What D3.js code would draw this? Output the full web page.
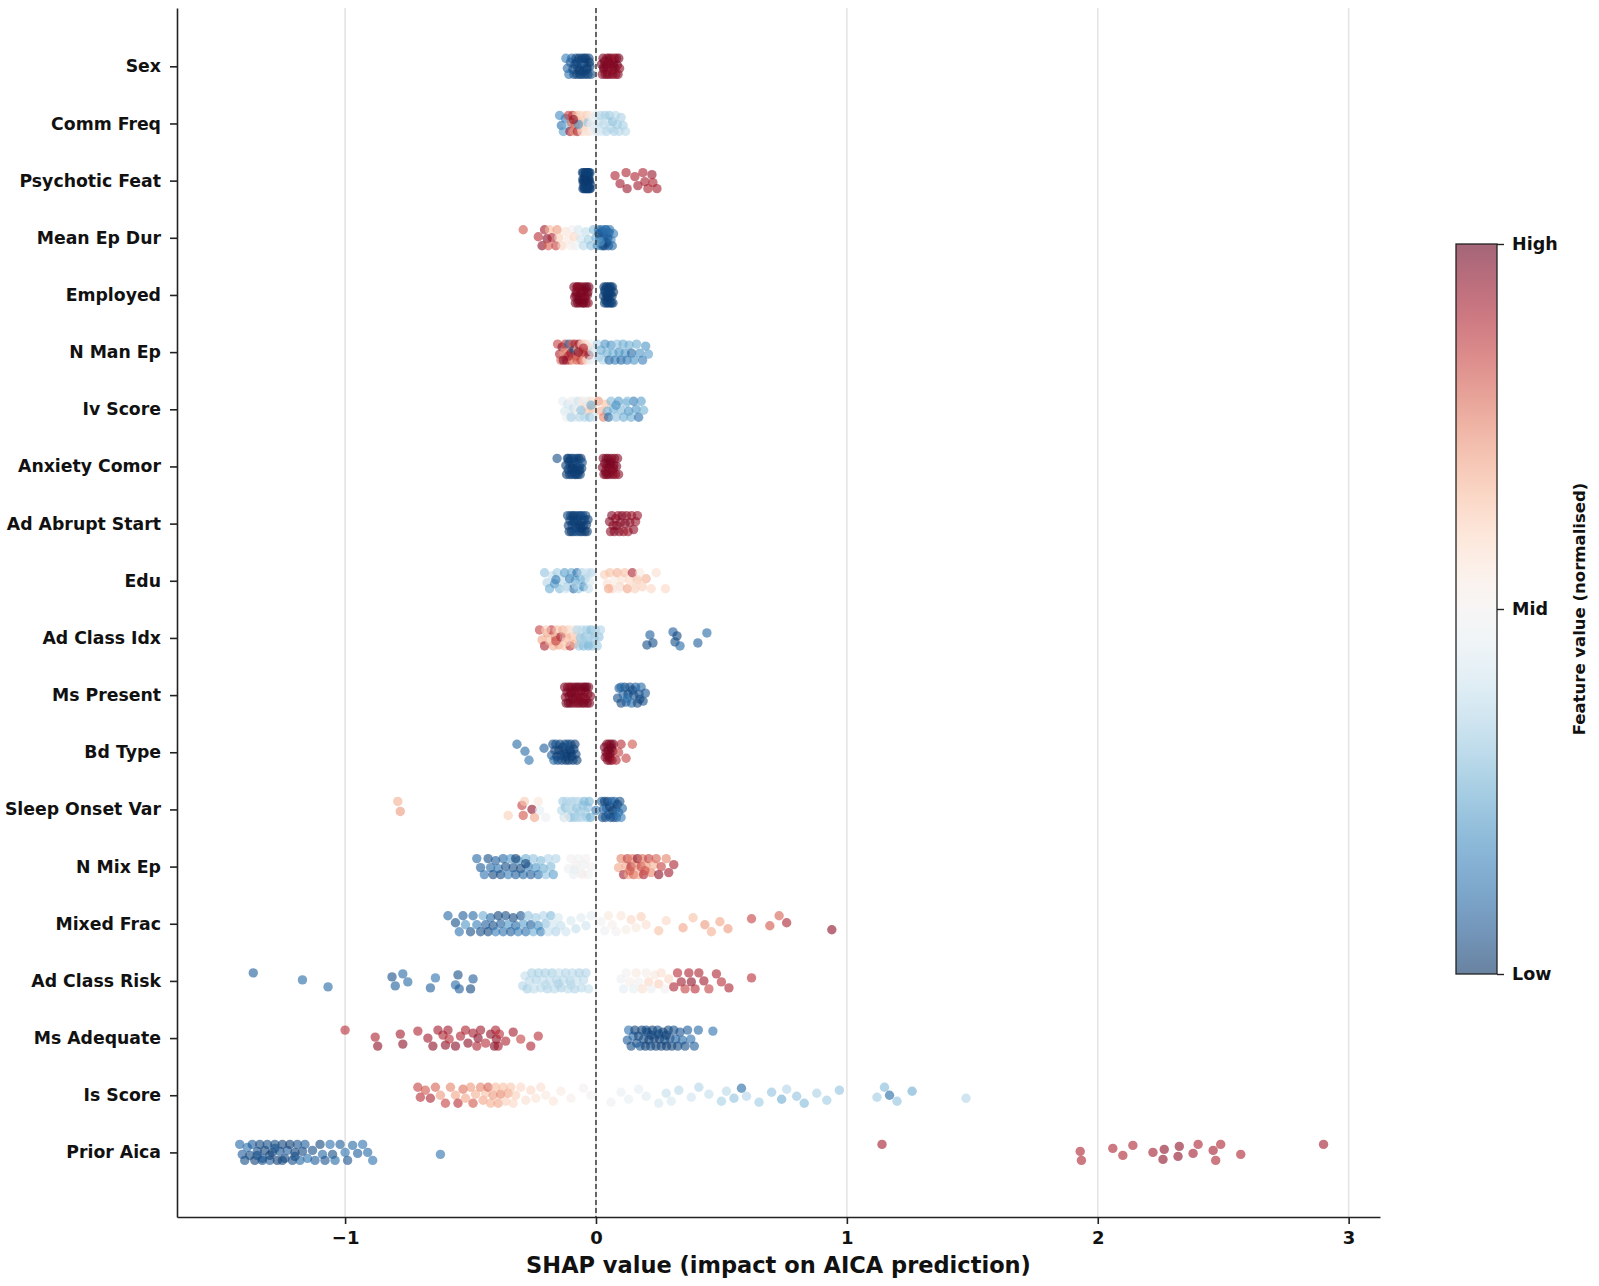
<!DOCTYPE html>
<html>
<head>
<meta charset="utf-8">
<script src="https://cdn.jsdelivr.net/npm/d3@7"></script>
<style>
  body { margin: 0; background: #fff; }
  svg text { font-family: "DejaVu Sans", sans-serif; fill: #111; }
</style>
</head>
<body>
<div class="chart"></div>
<script>
"use strict";

// feature names, top to bottom
const features = ["Sex", "Comm Freq", "Psychotic Feat", "Mean Ep Dur", "Employed", "N Man Ep",
    "Iv Score", "Anxiety Comor", "Ad Abrupt Start", "Edu", "Ad Class Idx", "Ms Present", "Bd Type",
    "Sleep Onset Var", "N Mix Ep", "Mixed Frac", "Ad Class Risk", "Ms Adequate", "Is Score", "Prior Aica"];

const xTicks = [-1, 0, 1, 2, 3];
const cbarTicks = [[1, "High"], [0.5, "Mid"], [0, "Low"]];

// [shap value, normalised feature value]
const sex = [[-0.12,0.15],[-0.114,0.1],[-0.108,0.12],[-0.102,0.08],[-0.097,0.1],[-0.092,0.05],[-0.088,0.06],[-0.084,0.03],[-0.08,0.04],[-0.076,0.03],[-0.072,0.05],[-0.068,0.02],[-0.064,0.03],[-0.06,0.04],[-0.056,0.02],[-0.052,0.03],[-0.048,0.05],[-0.044,0.02],[-0.04,0.03],[-0.036,0.04],[-0.032,0.02],[-0.028,0.03],[-0.024,0.03],[-0.02,0.05],[-0.066,0.02],[-0.046,0.03],[-0.026,0.02],[-0.056,0.04],[-0.036,0.03],[-0.076,0.04],
    [0.022,0.97],[0.025,0.96],[0.028,0.98],[0.031,0.95],[0.034,0.97],[0.037,0.96],[0.04,0.98],[0.043,0.95],[0.046,0.97],[0.049,0.96],[0.052,0.98],[0.055,0.95],[0.058,0.97],[0.061,0.96],[0.064,0.94],[0.067,0.97],[0.07,0.95],[0.073,0.96],[0.076,0.93],[0.079,0.94],[0.082,0.92],[0.085,0.97],[0.088,0.96],[0.091,0.98],[0.094,0.95],[0.03,0.97],[0.05,0.96],[0.07,0.97]];
const commFreq = [[-0.145,0.18],[-0.138,0.12],[-0.13,0.22],[-0.122,0.15],[-0.115,0.28],[-0.11,0.85],[-0.104,0.92],[-0.098,0.78],[-0.093,0.88],[-0.088,0.72],[-0.083,0.8],[-0.078,0.66],[-0.074,0.9],[-0.07,0.7],[-0.065,0.62],[-0.06,0.66],[-0.056,0.6],[-0.052,0.63],[-0.048,0.58],[-0.044,0.6],[-0.04,0.56],[-0.036,0.62],[-0.032,0.3],[-0.028,0.58],[-0.024,0.55],[-0.02,0.52],[-0.015,0.5],[-0.01,0.46],[-0.005,0.42],[0.0,0.44],[0.006,0.4],[0.012,0.38],[0.018,0.35],[0.024,0.42],[0.03,0.36],[0.036,0.33],[0.042,0.35],[0.048,0.38],[0.054,0.32],[0.06,0.35],[0.066,0.3],[0.072,0.34],[0.078,0.36],[0.085,0.32],[0.092,0.35],[0.1,0.34],[0.108,0.33],[0.118,0.36],[-0.07,0.2],[-0.09,0.95]];
const psychoticFeat = [[-0.054,0.03],[-0.051,0.02],[-0.048,0.03],[-0.045,0.02],[-0.042,0.03],[-0.039,0.02],[-0.036,0.03],[-0.033,0.02],[-0.03,0.03],[-0.027,0.02],[-0.024,0.03],[-0.022,0.02],[-0.053,0.02],[-0.047,0.03],[-0.041,0.02],[-0.035,0.03],[-0.029,0.02],[-0.023,0.03],[-0.05,0.02],[-0.044,0.03],[-0.038,0.02],[-0.032,0.03],[-0.026,0.02],[-0.052,0.03],[-0.046,0.02],[-0.04,0.03],[-0.034,0.02],[-0.028,0.03],[-0.049,0.02],[-0.037,0.03],[-0.031,0.02],[-0.025,0.03],
    [0.076,0.9],[0.096,0.92],[0.12,0.9],[0.124,0.93],[0.155,0.9],[0.167,0.92],[0.187,0.9],[0.195,0.91],[0.207,0.9],[0.223,0.93],[0.227,0.9],[0.243,0.91]];
const meanEpDur = [[-0.29,0.82],[-0.23,0.88],[-0.215,0.95],[-0.205,0.92],[-0.195,0.96],[-0.19,0.8],[-0.185,0.66],[-0.175,0.9],[-0.16,0.85],[-0.155,0.72],[-0.148,0.62],[-0.135,0.6],[-0.12,0.57],[-0.11,0.55],[-0.1,0.52],[-0.095,0.5],[-0.088,0.6],[-0.08,0.48],[-0.07,0.42],[-0.06,0.4],[-0.05,0.36],[-0.04,0.38],[-0.03,0.33],[-0.02,0.3],[-0.01,0.28],
    [0.0,0.25],[0.005,0.2],[0.01,0.15],[0.015,0.1],[0.02,0.18],[0.025,0.08],[0.03,0.12],[0.035,0.05],[0.04,0.1],[0.045,0.15],[0.05,0.06],[0.055,0.12],[0.06,0.2],[0.065,0.1],[0.07,0.15],[0.012,0.05],[0.022,0.1],[0.032,0.08],[0.042,0.05],[0.052,0.1],[0.028,0.04],[0.038,0.12],[0.018,0.22],[0.048,0.08]];
const employed = [[-0.088,0.97],[-0.085,0.96],[-0.082,0.98],[-0.079,0.97],[-0.076,0.96],[-0.073,0.98],[-0.07,0.97],[-0.067,0.96],[-0.064,0.98],[-0.061,0.97],[-0.058,0.96],[-0.055,0.98],[-0.052,0.97],[-0.049,0.96],[-0.046,0.98],[-0.043,0.97],[-0.04,0.96],[-0.037,0.98],[-0.034,0.97],[-0.031,0.96],[-0.028,0.98],[-0.08,0.97],[-0.068,0.98],[-0.056,0.97],[-0.044,0.96],[-0.032,0.97],[-0.074,0.96],[-0.05,0.98],
    [0.03,0.03],[0.032,0.02],[0.034,0.04],[0.036,0.03],[0.038,0.02],[0.04,0.03],[0.042,0.04],[0.044,0.02],[0.046,0.03],[0.048,0.02],[0.05,0.04],[0.052,0.03],[0.054,0.02],[0.056,0.03],[0.058,0.04],[0.06,0.02],[0.062,0.03],[0.064,0.02],[0.066,0.04],[0.068,0.03],[0.07,0.02],[0.035,0.03],[0.045,0.02],[0.055,0.03]];
const nManEp = [[-0.153,0.85],[-0.145,0.9],[-0.14,0.8],[-0.135,0.95],[-0.128,0.7],[-0.122,0.85],[-0.118,0.92],[-0.112,0.75],[-0.108,0.1],[-0.104,0.85],[-0.1,0.95],[-0.096,0.8],[-0.092,0.68],[-0.088,0.05],[-0.084,0.9],[-0.08,0.85],[-0.076,0.8],[-0.072,0.65],[-0.068,0.92],[-0.064,0.75],[-0.06,0.85],[-0.056,0.6],[-0.052,0.8],[-0.048,0.7],[-0.044,0.62],[-0.04,0.85],[-0.036,0.56],[-0.032,0.66],[-0.028,0.95],[-0.024,0.5],[-0.02,0.45],[-0.016,0.4],[-0.07,0.96],[-0.11,0.9],[-0.13,0.96],[-0.05,0.9],
    [0.005,0.35],[0.012,0.3],[0.02,0.25],[0.028,0.35],[0.036,0.2],[0.044,0.25],[0.052,0.1],[0.06,0.2],[0.068,0.25],[0.076,0.15],[0.084,0.3],[0.092,0.2],[0.1,0.1],[0.108,0.25],[0.116,0.2],[0.124,0.15],[0.132,0.25],[0.142,0.1],[0.152,0.2],[0.162,0.25],[0.174,0.2],[0.186,0.15],[0.198,0.2],[0.209,0.22]];
const ivScore = [[-0.133,0.45],[-0.125,0.42],[-0.118,0.48],[-0.112,0.4],[-0.105,0.45],[-0.1,0.5],[-0.095,0.42],[-0.09,0.38],[-0.085,0.46],[-0.08,0.44],[-0.075,0.52],[-0.07,0.4],[-0.065,0.36],[-0.06,0.48],[-0.055,0.55],[-0.05,0.42],[-0.045,0.35],[-0.04,0.6],[-0.035,0.45],[-0.03,0.62],[-0.025,0.3],[-0.02,0.58],[-0.015,0.65],[-0.01,0.4],[-0.1,0.35],[-0.06,0.3],[-0.02,0.25],
    [0.01,0.72],[0.02,0.68],[0.03,0.75],[0.04,0.65],[0.045,0.25],[0.05,0.1],[0.06,0.28],[0.07,0.25],[0.08,0.3],[0.09,0.22],[0.1,0.28],[0.11,0.25],[0.12,0.3],[0.13,0.2],[0.14,0.25],[0.15,0.15],[0.16,0.2],[0.17,0.12],[0.18,0.22],[0.19,0.26],[0.08,0.2],[0.125,0.28]];
const anxietyComor = [[-0.155,0.05],[-0.12,0.03],[-0.117,0.02],[-0.114,0.04],[-0.111,0.03],[-0.108,0.02],[-0.105,0.03],[-0.102,0.04],[-0.099,0.02],[-0.096,0.03],[-0.093,0.02],[-0.09,0.04],[-0.087,0.03],[-0.084,0.02],[-0.081,0.03],[-0.078,0.04],[-0.075,0.02],[-0.072,0.03],[-0.069,0.02],[-0.066,0.04],[-0.063,0.03],[-0.06,0.02],[-0.057,0.03],[-0.055,0.05],[-0.11,0.03],[-0.095,0.02],[-0.08,0.03],[-0.065,0.02],
    [0.026,0.97],[0.029,0.96],[0.032,0.98],[0.035,0.97],[0.038,0.96],[0.041,0.98],[0.044,0.97],[0.047,0.96],[0.05,0.98],[0.053,0.97],[0.056,0.96],[0.059,0.98],[0.062,0.97],[0.065,0.96],[0.068,0.98],[0.071,0.97],[0.074,0.96],[0.078,0.95],[0.082,0.97],[0.086,0.96],[0.09,0.95],[0.04,0.97],[0.055,0.98],[0.07,0.96]];
const adAbruptStart = [[-0.113,0.04],[-0.11,0.03],[-0.107,0.02],[-0.104,0.03],[-0.101,0.04],[-0.098,0.02],[-0.095,0.03],[-0.092,0.02],[-0.089,0.04],[-0.086,0.03],[-0.083,0.02],[-0.08,0.03],[-0.077,0.04],[-0.074,0.02],[-0.071,0.03],[-0.068,0.02],[-0.065,0.04],[-0.062,0.03],[-0.059,0.02],[-0.056,0.03],[-0.053,0.04],[-0.05,0.02],[-0.047,0.03],[-0.044,0.02],[-0.041,0.04],[-0.038,0.03],[-0.035,0.02],[-0.032,0.03],[-0.09,0.03],[-0.06,0.02],
    [0.054,0.96],[0.058,0.95],[0.063,0.97],[0.068,0.94],[0.073,0.96],[0.078,0.95],[0.083,0.97],[0.088,0.93],[0.093,0.96],[0.098,0.95],[0.104,0.97],[0.11,0.94],[0.116,0.96],[0.122,0.95],[0.128,0.93],[0.135,0.96],[0.142,0.94],[0.15,0.95],[0.158,0.93],[0.165,0.94]];
const edu = [[-0.205,0.3],[-0.195,0.35],[-0.185,0.25],[-0.175,0.38],[-0.165,0.2],[-0.155,0.32],[-0.145,0.28],[-0.135,0.36],[-0.125,0.22],[-0.115,0.3],[-0.105,0.15],[-0.098,0.25],[-0.09,0.1],[-0.083,0.2],[-0.076,0.12],[-0.07,0.3],[-0.063,0.25],[-0.056,0.35],[-0.05,0.18],[-0.043,0.3],[-0.036,0.4],[-0.03,0.38],[-0.025,0.42],[-0.02,0.35],[-0.16,0.15],[-0.12,0.4],[-0.08,0.35],
    [0.034,0.62],[0.045,0.58],[0.055,0.65],[0.065,0.6],[0.075,0.55],[0.085,0.68],[0.095,0.62],[0.105,0.58],[0.115,0.65],[0.125,0.7],[0.135,0.6],[0.145,0.9],[0.155,0.62],[0.165,0.66],[0.175,0.55],[0.185,0.62],[0.2,0.68],[0.22,0.6],[0.24,0.58],[0.277,0.6],[0.09,0.52],[0.16,0.58],[0.05,0.7]];
const adClassIdx = [[-0.225,0.85],[-0.215,0.7],[-0.205,0.9],[-0.195,0.72],[-0.185,0.66],[-0.178,0.88],[-0.17,0.68],[-0.162,0.75],[-0.155,0.65],[-0.148,0.7],[-0.14,0.92],[-0.132,0.68],[-0.125,0.64],[-0.118,0.7],[-0.11,0.62],[-0.103,0.88],[-0.096,0.66],[-0.09,0.55],[-0.085,0.68],[-0.08,0.6],[-0.2,0.62],[-0.16,0.85],[-0.12,0.6],
    [-0.075,0.35],[-0.068,0.32],[-0.062,0.3],[-0.056,0.36],[-0.05,0.28],[-0.044,0.3],[-0.038,0.33],[-0.032,0.3],[-0.026,0.35],[-0.02,0.28],[-0.014,0.32],[-0.008,0.3],[-0.002,0.34],[0.005,0.32],[0.012,0.3],[0.018,0.35],[-0.05,0.33],[-0.03,0.28],
    [0.203,0.05],[0.215,0.08],[0.227,0.05],[0.307,0.08],[0.315,0.05],[0.323,0.04],[0.335,0.1],[0.406,0.08],[0.442,0.1]];
const msPresent = [[-0.125,0.97],[-0.122,0.96],[-0.119,0.98],[-0.116,0.97],[-0.113,0.96],[-0.11,0.98],[-0.107,0.97],[-0.104,0.96],[-0.101,0.98],[-0.098,0.97],[-0.095,0.96],[-0.092,0.98],[-0.089,0.97],[-0.086,0.96],[-0.083,0.98],[-0.08,0.97],[-0.077,0.96],[-0.074,0.98],[-0.071,0.97],[-0.068,0.96],[-0.065,0.98],[-0.062,0.97],[-0.059,0.96],[-0.056,0.98],[-0.053,0.97],[-0.05,0.96],[-0.047,0.98],[-0.044,0.97],[-0.041,0.96],[-0.038,0.98],[-0.035,0.97],[-0.032,0.96],[-0.029,0.98],[-0.026,0.97],[-0.022,0.96],[-0.1,0.97],[-0.07,0.96],[-0.045,0.98],
    [0.086,0.05],[0.092,0.08],[0.1,0.04],[0.108,0.1],[0.115,0.05],[0.12,0.08],[0.128,0.04],[0.135,0.06],[0.142,0.1],[0.15,0.05],[0.158,0.08],[0.165,0.04],[0.172,0.06],[0.18,0.1],[0.188,0.05],[0.197,0.07],[0.125,0.12],[0.145,0.05],[0.1,0.1],[0.175,0.04]];
const bdType = [[-0.315,0.1],[-0.283,0.1],[-0.267,0.12],[-0.207,0.08],
    [-0.177,0.08],[-0.172,0.05],[-0.168,0.1],[-0.164,0.04],[-0.16,0.06],[-0.156,0.03],[-0.152,0.05],[-0.148,0.02],[-0.144,0.04],[-0.14,0.03],[-0.136,0.05],[-0.132,0.02],[-0.128,0.03],[-0.124,0.04],[-0.12,0.02],[-0.116,0.03],[-0.112,0.05],[-0.108,0.02],[-0.104,0.03],[-0.1,0.04],[-0.096,0.02],[-0.092,0.03],[-0.088,0.05],[-0.084,0.02],[-0.08,0.04],[-0.076,0.03],[-0.12,0.03],[-0.1,0.02],
    [0.034,0.97],[0.037,0.96],[0.04,0.98],[0.043,0.97],[0.046,0.96],[0.049,0.98],[0.052,0.97],[0.055,0.96],[0.058,0.98],[0.061,0.97],[0.064,0.96],[0.067,0.98],[0.07,0.97],[0.045,0.96],[0.055,0.97],[0.062,0.98],
    [0.08,0.9],[0.09,0.85],[0.1,0.88],[0.12,0.85],[0.145,0.82]];
const sleepOnsetVar = [[-0.79,0.68],[-0.78,0.72],[-0.35,0.62],[-0.295,0.85],[-0.29,0.82],[-0.285,0.63],[-0.255,0.95],[-0.245,0.7],[-0.23,0.56],[-0.225,0.45],[-0.2,0.48],
    [-0.137,0.36],[-0.132,0.32],[-0.127,0.38],[-0.122,0.3],[-0.117,0.35],[-0.112,0.33],[-0.107,0.37],[-0.102,0.3],[-0.097,0.34],[-0.092,0.36],[-0.087,0.31],[-0.082,0.35],[-0.077,0.3],[-0.072,0.33],[-0.067,0.37],[-0.062,0.32],[-0.057,0.35],[-0.052,0.3],[-0.047,0.28],[-0.042,0.34],[-0.037,0.32],[-0.032,0.3],[-0.027,0.27],[-0.022,0.25],[-0.12,0.5],
    [0.0,0.15],[0.022,0.1],[0.026,0.05],[0.03,0.08],[0.034,0.03],[0.038,0.06],[0.042,0.1],[0.046,0.04],[0.05,0.07],[0.054,0.03],[0.058,0.05],[0.062,0.08],[0.066,0.03],[0.07,0.06],[0.074,0.1],[0.078,0.04],[0.082,0.07],[0.086,0.03],[0.09,0.12],[0.095,0.05],[0.1,0.15],[0.105,0.1]];
const nMixEp = [[-0.475,0.1],[-0.46,0.08],[-0.445,0.12],[-0.43,0.05],[-0.42,0.1],[-0.41,0.04],[-0.4,0.08],[-0.39,0.12],[-0.38,0.05],[-0.37,0.1],[-0.36,0.05],[-0.35,0.15],[-0.34,0.2],[-0.33,0.05],[-0.32,0.08],[-0.31,0.2],[-0.3,0.04],[-0.29,0.1],[-0.28,0.25],[-0.27,0.15],[-0.26,0.08],[-0.25,0.3],[-0.24,0.2],[-0.23,0.12],[-0.22,0.28],[-0.21,0.25],[-0.2,0.3],[-0.19,0.35],[-0.18,0.28],[-0.17,0.22],[-0.16,0.35],[-0.32,0.02],[-0.28,0.03],
    [-0.11,0.48],[-0.1,0.5],[-0.09,0.47],[-0.08,0.52],[-0.07,0.49],[-0.06,0.5],[-0.05,0.48],[-0.04,0.51],[-0.03,0.49],[-0.02,0.5],[-0.085,0.46],[-0.055,0.52],
    [0.09,0.7],[0.1,0.75],[0.11,0.92],[0.12,0.7],[0.125,0.85],[0.13,0.68],[0.14,0.9],[0.145,0.75],[0.15,0.8],[0.16,0.72],[0.165,0.95],[0.17,0.7],[0.18,0.85],[0.185,0.78],[0.19,0.9],[0.2,0.72],[0.21,0.85],[0.22,0.75],[0.23,0.68],[0.24,0.8],[0.25,0.95],[0.26,0.85],[0.28,0.75],[0.29,0.92],[0.31,0.9],[0.135,0.8],[0.195,0.82]];
const mixedFrac = [[-0.59,0.1],[-0.56,0.05],[-0.545,0.12],[-0.53,0.08],[-0.52,0.2],[-0.5,0.05],[-0.49,0.1],[-0.475,0.15],[-0.46,0.05],[-0.45,0.25],[-0.44,0.08],[-0.43,0.04],[-0.42,0.1],[-0.41,0.05],[-0.4,0.15],[-0.39,0.03],[-0.38,0.08],[-0.37,0.12],[-0.36,0.05],[-0.35,0.2],[-0.34,0.08],[-0.33,0.04],[-0.32,0.1],[-0.31,0.15],[-0.3,0.06],[-0.29,0.22],[-0.28,0.12],[-0.27,0.3],[-0.26,0.08],[-0.25,0.25],[-0.24,0.32],[-0.23,0.2],[-0.22,0.15],[-0.21,0.35],[-0.2,0.3],[-0.19,0.38],[-0.18,0.28],[-0.17,0.4],[-0.16,0.35],[-0.15,0.42],[-0.14,0.38],[-0.12,0.4],[-0.1,0.42],[-0.08,0.38],[-0.06,0.44],[-0.04,0.4],[-0.02,0.45],
    [0.02,0.5],[0.035,0.48],[0.05,0.55],[0.065,0.52],[0.08,0.5],[0.1,0.56],[0.12,0.53],[0.14,0.6],[0.16,0.55],[0.18,0.62],[0.2,0.58],[0.25,0.65],[0.28,0.6],[0.347,0.7],[0.387,0.65],[0.434,0.72],[0.46,0.68],[0.494,0.7],[0.526,0.72],[0.62,0.85],[0.693,0.82],[0.73,0.8],[0.76,0.9],[0.94,0.95]];
const adClassRisk = [[-1.366,0.08],[-1.17,0.1],[-1.068,0.1],[-0.813,0.05],[-0.8,0.08],[-0.77,0.1],[-0.75,0.1],[-0.66,0.08],[-0.64,0.12],[-0.56,0.1],[-0.55,0.05],[-0.545,0.08],[-0.5,0.04],[-0.49,0.08],
    [-0.292,0.35],[-0.283,0.38],[-0.274,0.33],[-0.265,0.36],[-0.256,0.34],[-0.247,0.37],[-0.238,0.35],[-0.229,0.33],[-0.22,0.36],[-0.211,0.38],[-0.202,0.34],[-0.193,0.35],[-0.184,0.37],[-0.175,0.33],[-0.166,0.36],[-0.157,0.35],[-0.148,0.38],[-0.139,0.34],[-0.13,0.36],[-0.121,0.35],[-0.112,0.37],[-0.103,0.34],[-0.094,0.36],[-0.085,0.35],[-0.076,0.38],[-0.067,0.34],[-0.058,0.36],[-0.049,0.37],[-0.04,0.35],[-0.03,0.38],[-0.2,0.36],[-0.15,0.34],[-0.1,0.36],
    [0.1,0.48],[0.11,0.45],[0.12,0.5],[0.135,0.52],[0.15,0.46],[0.16,0.55],[0.17,0.5],[0.185,0.58],[0.2,0.52],[0.21,0.6],[0.22,0.48],[0.235,0.55],[0.25,0.62],[0.26,0.58],[0.275,0.5],[0.29,0.6],
    [0.31,0.9],[0.325,0.88],[0.34,0.92],[0.355,0.85],[0.37,0.9],[0.38,0.95],[0.395,0.88],[0.41,0.9],[0.43,0.92],[0.45,0.85],[0.48,0.9],[0.5,0.88],[0.53,0.9],[0.62,0.88]];
const msAdequate = [[-1.0,0.88],[-0.88,0.9],[-0.87,0.95],[-0.78,0.92],[-0.77,0.95],[-0.71,0.9],[-0.67,0.92],[-0.65,0.95],[-0.61,0.9],[-0.6,0.95],[-0.59,0.92],[-0.585,0.88],[-0.56,0.96],[-0.54,0.9],[-0.51,0.95],[-0.49,0.92],[-0.475,0.9],[-0.47,0.96],[-0.46,0.92],[-0.44,0.88],[-0.42,0.95],[-0.405,0.97],[-0.4,0.9],[-0.397,0.95],[-0.39,0.92],[-0.385,0.88],[-0.36,0.9],[-0.33,0.92],[-0.3,0.85],[-0.26,0.9],[-0.23,0.88],[-0.63,0.92],[-0.52,0.9],
    [0.125,0.08],[0.13,0.12],[0.14,0.05],[0.148,0.1],[0.155,0.03],[0.162,0.06],[0.17,0.04],[0.176,0.08],[0.183,0.03],[0.19,0.05],[0.197,0.02],[0.204,0.04],[0.211,0.03],[0.218,0.05],[0.225,0.02],[0.232,0.04],[0.239,0.03],[0.246,0.05],[0.253,0.02],[0.26,0.04],[0.267,0.03],[0.274,0.05],[0.281,0.02],[0.288,0.04],[0.295,0.06],[0.302,0.03],[0.31,0.05],[0.318,0.08],[0.326,0.04],[0.335,0.06],[0.345,0.1],[0.355,0.05],[0.365,0.08],[0.378,0.12],[0.392,0.08],[0.408,0.1],[0.22,0.03],[0.25,0.04],[0.28,0.03],[0.2,0.05],[0.466,0.12]];
const isScore = [[-0.71,0.85],[-0.7,0.88],[-0.68,0.82],[-0.66,0.9],[-0.64,0.8],[-0.62,0.72],[-0.6,0.85],[-0.58,0.75],[-0.56,0.7],[-0.55,0.88],[-0.53,0.78],[-0.52,0.7],[-0.5,0.72],[-0.49,0.82],[-0.48,0.68],[-0.46,0.75],[-0.45,0.7],[-0.44,0.65],[-0.43,0.8],[-0.42,0.68],[-0.41,0.72],[-0.4,0.66],[-0.39,0.7],[-0.38,0.75],[-0.37,0.65],[-0.36,0.62],[-0.35,0.7],[-0.34,0.64],[-0.33,0.6],[-0.32,0.62],[-0.3,0.6],[-0.28,0.58],[-0.26,0.6],[-0.24,0.57],[-0.22,0.58],[-0.2,0.55],[-0.17,0.56],[-0.14,0.54],[-0.1,0.52],[-0.05,0.5],[-0.02,0.5],
    [0.06,0.48],[0.1,0.47],[0.13,0.46],[0.17,0.45],[0.2,0.44],[0.25,0.42],[0.28,0.38],[0.3,0.42],[0.33,0.36],[0.38,0.4],[0.41,0.35],[0.45,0.38],[0.5,0.33],[0.52,0.36],[0.55,0.3],[0.58,0.1],[0.6,0.35],[0.65,0.32],[0.7,0.3],[0.74,0.25],[0.76,0.35],[0.8,0.3],[0.83,0.28],[0.88,0.34],[0.92,0.32],[0.97,0.3],[1.12,0.32],[1.15,0.28],[1.17,0.1],[1.2,0.3],[1.26,0.25],[1.475,0.35]];
const priorAica = [[-1.42,0.1],[-1.41,0.08],[-1.4,0.05],[-1.39,0.12],[-1.38,0.04],[-1.37,0.08],[-1.36,0.03],[-1.35,0.06],[-1.34,0.04],[-1.33,0.1],[-1.32,0.03],[-1.31,0.05],[-1.3,0.08],[-1.29,0.03],[-1.28,0.05],[-1.27,0.02],[-1.26,0.06],[-1.25,0.03],[-1.24,0.04],[-1.23,0.08],[-1.22,0.02],[-1.21,0.05],[-1.2,0.03],[-1.19,0.06],[-1.18,0.1],[-1.17,0.04],[-1.16,0.08],[-1.15,0.12],[-1.13,0.05],[-1.12,0.08],[-1.1,0.04],[-1.09,0.1],[-1.08,0.06],[-1.06,0.12],[-1.05,0.05],[-1.04,0.1],[-1.02,0.08],[-1.0,0.12],[-0.99,0.06],[-0.97,0.1],[-0.95,0.08],[-0.93,0.12],[-0.91,0.1],[-0.89,0.12],[-1.35,0.05],[-1.3,0.03],[-1.25,0.04],[-1.2,0.05],[-1.28,0.06],[-1.33,0.05],[-0.62,0.12],
    [1.14,0.92],[1.93,0.9],[1.935,0.9],[2.06,0.9],[2.1,0.9],[2.14,0.9],[2.22,0.92],[2.26,0.95],[2.265,0.95],[2.32,0.95],[2.325,0.95],[2.38,0.92],[2.4,0.9],[2.46,0.92],[2.47,0.9],[2.49,0.9],[2.57,0.9],[2.9,0.92]];

const rows = [sex, commFreq, psychoticFeat, meanEpDur, employed, nManEp, ivScore, anxietyComor,
    adAbruptStart, edu, adClassIdx, msPresent, bdType, sleepOnsetVar, nMixEp, mixedFrac,
    adClassRisk, msAdequate, isScore, priorAica];

const width = 1599, height = 1286;
const plot = {left: 177, right: 1380, top: 8, bottom: 1217};
const r = 4.7;

let svg = d3.select(".chart").append("svg")
    .attr("width", width)
    .attr("height", height);

let x = d3.scaleLinear().domain([-1.67, 3.125]).range([plot.left, plot.right]);
let y = d3.scaleLinear().domain([-1.02, 20.13]).range([plot.top, plot.bottom]);
let color = v => d3.interpolateRdBu(1 - v);

// grid
svg.append("g").selectAll("line")
    .data(xTicks)
    .join("line")
    .attr("x1", d => x(d)).attr("x2", d => x(d))
    .attr("y1", plot.top).attr("y2", plot.bottom)
    .attr("stroke", "#e3e3e3")
    .attr("stroke-width", 1.5);

// vertical spread inside each row: pick the offset that overlaps least with points already placed
function spread(pts){
    let offsets = d3.range(-8, 8.01, 1);
    let n = offsets.length;
    let placed = [];
    return pts.map((p, i) => {
        let px = x(p[0]);
        let best = 0, bestCost = Infinity;
        for (let k = 0; k < n; k++){
            let off = offsets[(k + i * 7) % n];
            let cost = 0;
            for (let q of placed){
                let dx = q.px - px;
                if (Math.abs(dx) >= 2 * r) continue;
                let d = Math.hypot(dx, q.off - off);
                if (d < 2 * r) cost += (2 * r - d) * (2 * r - d);
            }
            if (cost < bestCost - 1e-9){ bestCost = cost; best = off; }
        }
        placed.push({px: px, off: best});
        return {v: p[0], c: p[1], off: best};
    });
}

let dots = svg.append("g");
rows.forEach((pts, i) => {
    dots.append("g").selectAll("circle")
        .data(spread(pts))
        .join("circle")
        .attr("cx", d => x(d.v))
        .attr("cy", d => y(i) + d.off)
        .attr("r", r)
        .attr("fill", d => color(d.c))
        .attr("fill-opacity", 0.6);
});

// zero line
svg.append("line")
    .attr("x1", x(0)).attr("x2", x(0))
    .attr("y1", plot.top).attr("y2", plot.bottom)
    .attr("stroke", "#444")
    .attr("stroke-width", 1.6)
    .attr("stroke-dasharray", "5,3");

// axes
let xAxis = svg.append("g")
    .attr("transform", "translate(0," + plot.bottom + ")")
    .call(d3.axisBottom(x).tickValues(xTicks).tickSize(7).tickSizeOuter(0).tickPadding(7)
        .tickFormat(d => d < 0 ? "\u2212" + Math.abs(d) : String(d)));
xAxis.selectAll("text").attr("font-size", 18).attr("font-weight", "bold").attr("fill", "#111");
xAxis.selectAll("line, path").attr("stroke", "#222").attr("stroke-width", 1.6);

let yAxis = svg.append("g")
    .attr("transform", "translate(" + plot.left + ",0)")
    .call(d3.axisLeft(y).tickValues(d3.range(features.length)).tickSize(7).tickSizeOuter(0).tickPadding(9)
        .tickFormat(i => features[i]));
yAxis.selectAll("text").attr("font-size", 17.3).attr("font-weight", "bold").attr("fill", "#111");
yAxis.selectAll("line, path").attr("stroke", "#222").attr("stroke-width", 1.6);

svg.append("text")
    .attr("x", (plot.left + plot.right) / 2)
    .attr("y", 1273)
    .attr("text-anchor", "middle")
    .attr("font-size", 22.5)
    .attr("font-weight", "bold")
    .text("SHAP value (impact on AICA prediction)");

// colour bar
let cb = {x: 1456, y: 244, w: 41, h: 730};
let grad = svg.append("defs").append("linearGradient")
    .attr("id", "cbar")
    .attr("x1", 0).attr("y1", 1).attr("x2", 0).attr("y2", 0);
grad.selectAll("stop")
    .data(d3.range(0, 1.001, 0.05))
    .join("stop")
    .attr("offset", d => d)
    .attr("stop-color", d => color(d))
    .attr("stop-opacity", 0.6);

let cbScale = d3.scaleLinear().domain([0, 1]).range([cb.y + cb.h, cb.y]);
svg.append("rect")
    .attr("x", cb.x).attr("y", cb.y)
    .attr("width", cb.w).attr("height", cb.h)
    .attr("fill", "url(#cbar)")
    .attr("stroke", "#222")
    .attr("stroke-width", 1.3);

let cbAxis = svg.append("g")
    .attr("transform", "translate(" + (cb.x + cb.w) + ",0)")
    .call(d3.axisRight(cbScale).tickValues(cbarTicks.map(d => d[0])).tickSize(7).tickSizeOuter(0).tickPadding(8)
        .tickFormat(v => cbarTicks.find(d => d[0] === v)[1]));
cbAxis.select(".domain").remove();
cbAxis.selectAll("line").attr("stroke", "#222").attr("stroke-width", 1.4);
cbAxis.selectAll("text").attr("font-size", 17.5).attr("font-weight", "bold").attr("fill", "#111");

svg.append("text")
    .attr("transform", "translate(1579," + (cb.y + cb.h / 2) + ") rotate(-90)")
    .attr("text-anchor", "middle")
    .attr("dominant-baseline", "central")
    .attr("font-size", 16.5)
    .attr("font-weight", "bold")
    .text("Feature value (normalised)");
</script>
</body>
</html>
